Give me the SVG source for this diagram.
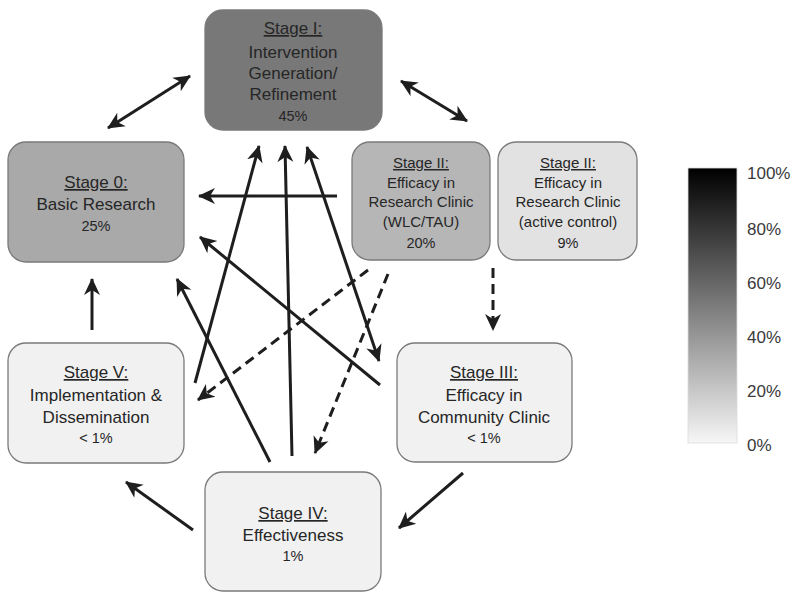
<svg xmlns="http://www.w3.org/2000/svg" width="800" height="598" viewBox="0 0 800 598">
<style>
.box{stroke:#7a7a7a;stroke-width:1.3}
.t{font-family:"Liberation Sans",Arial,sans-serif;fill:#262626;text-anchor:middle}
.big{font-size:17px}
.mid{font-size:15px}
.pct{font-size:14.5px}
.u{text-decoration:underline}
.leg{font-family:"Liberation Sans",Arial,sans-serif;font-size:17px;fill:#3a3a3a}
.c{stroke:#1e1e1e;stroke-width:3;fill:none;marker-end:url(#ah)}
.d{marker-start:url(#ah)}
.dash{stroke-dasharray:10 6}
</style>
<defs>
<marker id="ah" markerUnits="userSpaceOnUse" markerWidth="18" markerHeight="18" refX="16" refY="8" orient="auto-start-reverse" viewBox="0 0 18 16">
<path d="M0,0 L17,8 L0,16 L5,8 z" fill="#1e1e1e"/>
</marker>
<linearGradient id="g" x1="0" y1="0" x2="0" y2="1">
<stop offset="0" stop-color="#000"/>
<stop offset="1" stop-color="#f6f6f6"/>
</linearGradient>
</defs>
<rect width="800" height="598" fill="#fff"/>

<g id="stage1">
<rect class="box" x="205" y="10" width="177" height="120" rx="18" fill="#787878"/>
<text class="t big" x="293" y="34"><tspan class="u">Stage I:</tspan></text>
<text class="t big" x="293" y="58">Intervention</text>
<text class="t big" x="293" y="79">Generation/</text>
<text class="t big" x="293" y="100">Refinement</text>
<text class="t pct" x="293" y="121">45%</text>
</g>

<g id="stage0">
<rect class="box" x="8" y="142" width="176" height="120" rx="18" fill="#a9a9a9"/>
<text class="t big" x="96" y="188"><tspan class="u">Stage 0:</tspan></text>
<text class="t big" x="96" y="210">Basic Research</text>
<text class="t pct" x="96" y="231">25%</text>
</g>

<g id="stage2a">
<rect class="box" x="352" y="142" width="138" height="118" rx="18" fill="#b6b6b6"/>
<text class="t mid" x="421" y="168"><tspan class="u">Stage II:</tspan></text>
<text class="t mid" x="421" y="188">Efficacy in</text>
<text class="t mid" x="421" y="207">Research Clinic</text>
<text class="t mid" x="421" y="227">(WLC/TAU)</text>
<text class="t pct" x="421" y="248">20%</text>
</g>

<g id="stage2b">
<rect class="box" x="498" y="142" width="139" height="118" rx="18" fill="#e2e2e2"/>
<text class="t mid" x="568" y="168"><tspan class="u">Stage II:</tspan></text>
<text class="t mid" x="568" y="188">Efficacy in</text>
<text class="t mid" x="568" y="207">Research Clinic</text>
<text class="t mid" x="568" y="227">(active control)</text>
<text class="t pct" x="568" y="248">9%</text>
</g>

<g id="stage5">
<rect class="box" x="8" y="343" width="176" height="120" rx="18" fill="#f1f1f1"/>
<text class="t big" x="96" y="378"><tspan class="u">Stage V:</tspan></text>
<text class="t big" x="96" y="401">Implementation &amp;</text>
<text class="t big" x="96" y="423">Dissemination</text>
<text class="t pct" x="96" y="443">&lt; 1%</text>
</g>

<g id="stage3">
<rect class="box" x="397" y="343" width="175" height="119" rx="18" fill="#f1f1f1"/>
<text class="t big" x="484" y="378"><tspan class="u">Stage III:</tspan></text>
<text class="t big" x="484" y="401">Efficacy in</text>
<text class="t big" x="484" y="423">Community Clinic</text>
<text class="t pct" x="484" y="443">&lt; 1%</text>
</g>

<g id="stage4">
<rect class="box" x="205" y="472" width="176" height="119" rx="18" fill="#f1f1f1"/>
<text class="t big" x="293" y="519"><tspan class="u">Stage IV:</tspan></text>
<text class="t big" x="293" y="541">Effectiveness</text>
<text class="t pct" x="293" y="561">1%</text>
</g>

<g id="connectors">
<line class="c d" x1="108" y1="128" x2="190" y2="76"/>
<line class="c d" x1="401" y1="81" x2="467" y2="121"/>
<line class="c" x1="337" y1="196" x2="199" y2="196"/>
<line class="c" x1="92" y1="330" x2="92" y2="279"/>
<line class="c" x1="195" y1="383" x2="259" y2="146"/>
<line class="c" x1="292" y1="456" x2="285" y2="146"/>
<line class="c d" x1="307" y1="147" x2="379" y2="361"/>
<line class="c" x1="270" y1="462" x2="177" y2="279"/>
<line class="c" x1="380" y1="385" x2="200" y2="237"/>
<line class="c dash" x1="368" y1="270" x2="198" y2="400"/>
<line class="c dash" x1="388" y1="274" x2="315" y2="453"/>
<line class="c dash" x1="493" y1="268" x2="493" y2="330"/>
<line class="c" x1="463" y1="473" x2="399" y2="528"/>
<line class="c" x1="193" y1="530" x2="126" y2="482"/>
</g>

<g id="legend">
<rect x="688" y="168" width="49" height="275" fill="url(#g)" stroke="#ddd" stroke-width="0.8"/>
<text class="leg" x="747" y="179">100%</text>
<text class="leg" x="747" y="235">80%</text>
<text class="leg" x="747" y="289">60%</text>
<text class="leg" x="747" y="343">40%</text>
<text class="leg" x="747" y="397">20%</text>
<text class="leg" x="747" y="451">0%</text>
</g>
</svg>
